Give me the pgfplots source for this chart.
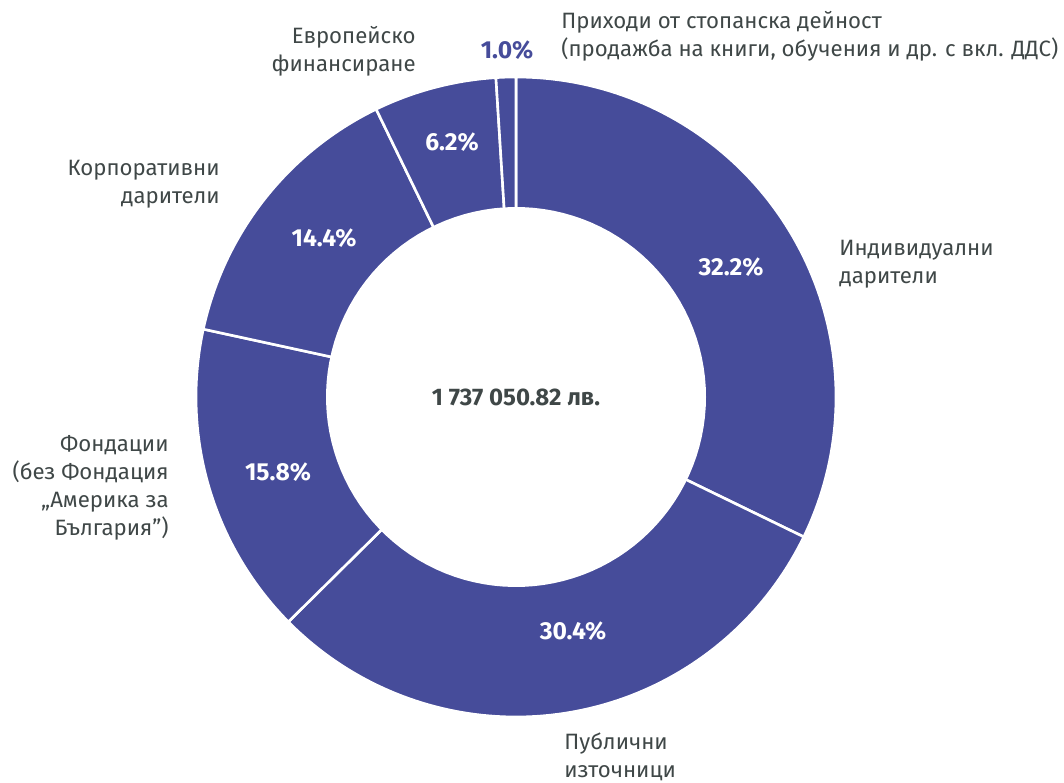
\documentclass[border=0pt]{standalone}
\usepackage{pgfplots}
\pgfplotsset{compat=1.18}
\usepackage{fontspec}
\setmainfont{Fira Sans}
\definecolor{barc}{HTML}{464C9A}
\definecolor{txt}{HTML}{3F4747}
\tikzset{
  lbl/.style={font=\fontsize{11.1}{14}\selectfont, text=txt, inner sep=0pt},
  pct/.style={font=\fontsize{12.3}{14}\selectfont\bfseries, text=white},
}
\begin{document}
\begin{tikzpicture}
\begin{axis}[
  width=532pt, height=391pt, scale only axis,
  xmin=0, xmax=1064, ymin=0, ymax=782,
  axis lines=none, clip=false,
]
% shares (percent): 32.2, 30.4, 15.8, 14.4, 6.2, 1.0 ; start at 90 deg, clockwise
\addplot[fill=barc, draw=white, line width=1.3pt, domain=-25.92:90, samples=90, variable=\t] ({516+320*cos(t)},{385+320*sin(t)}) -- (axis cs:516,385) -- cycle;
\addplot[fill=barc, draw=white, line width=1.3pt, domain=-135.36:-25.92, samples=90, variable=\t] ({516+320*cos(t)},{385+320*sin(t)}) -- (axis cs:516,385) -- cycle;
\addplot[fill=barc, draw=white, line width=1.3pt, domain=-192.24:-135.36, samples=50, variable=\t] ({516+320*cos(t)},{385+320*sin(t)}) -- (axis cs:516,385) -- cycle;
\addplot[fill=barc, draw=white, line width=1.3pt, domain=-244.08:-192.24, samples=50, variable=\t] ({516+320*cos(t)},{385+320*sin(t)}) -- (axis cs:516,385) -- cycle;
\addplot[fill=barc, draw=white, line width=1.3pt, domain=-266.40:-244.08, samples=30, variable=\t] ({516+320*cos(t)},{385+320*sin(t)}) -- (axis cs:516,385) -- cycle;
\addplot[fill=barc, draw=white, line width=1.3pt, domain=-270:-266.40, samples=10, variable=\t] ({516+320*cos(t)},{385+320*sin(t)}) -- (axis cs:516,385) -- cycle;
% hole
\addplot[fill=white, draw=none, domain=0:360, samples=120, variable=\t] ({516+190*cos(t)},{385+190*sin(t)}) -- cycle;
% inside labels
\node[pct] at (axis cs:731,515) {32.2\%};
\node[pct] at (axis cs:573,151) {30.4\%};
\node[pct] at (axis cs:278,310) {15.8\%};
\node[pct] at (axis cs:324,544) {14.4\%};
\node[pct] at (axis cs:452,640) {6.2\%};
\node[pct, text=barc] at (axis cs:507,732) {1.0\%};
\node[pct, font=\fontsize{12}{14}\selectfont\bfseries, text=txt] at (axis cs:516,385) {1 737 050.82 лв.};
% outside labels
\node[lbl, anchor=west, align=left] at (axis cs:561,746) {Приходи от стопанска дейност\\(продажба на книги, обучения и др. с вкл. ДДС)};
\node[lbl, anchor=east, align=right] at (axis cs:416,731) {Европейско\\финансиране};
\node[lbl, anchor=east, align=right] at (axis cs:220,598) {Корпоративни\\дарители};
\node[lbl, anchor=west, align=left] at (axis cs:839,518) {Индивидуални\\дарители};
\node[lbl, anchor=east, align=right] at (axis cs:169,294) {Фондации\\(без Фондация\\„Америка за\\България”)};
\node[lbl, anchor=west, align=left] at (axis cs:564,25) {Публични\\източници};
\coordinate (bl) at (axis cs:0,0);
\coordinate (tr) at (axis cs:1064,782);
\end{axis}
\pgfresetboundingbox
\path (bl) rectangle (tr);
\end{tikzpicture}
\end{document}
